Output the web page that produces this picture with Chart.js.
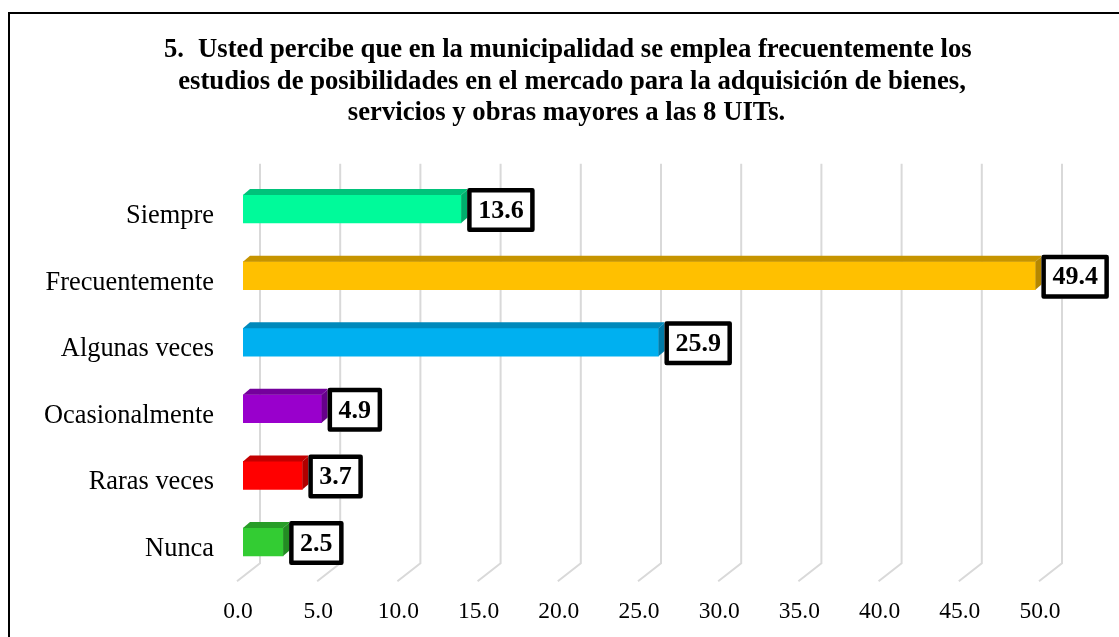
<!DOCTYPE html>
<html><head><meta charset="utf-8">
<script src="https://cdn.jsdelivr.net/npm/chart.js@4/dist/chart.umd.min.js"></script>
<style>html,body{margin:0;padding:0;background:#fff;}canvas{display:block;}</style>
</head><body>
<canvas id="c" width="1119" height="637"></canvas>
<script>
const categories = ['Siempre', 'Frecuentemente', 'Algunas veces', 'Ocasionalmente', 'Raras veces', 'Nunca'];
const values = [13.6, 49.4, 25.9, 4.9, 3.7, 2.5];
const frontColors = ['#00FA9A', '#FFC000', '#00B0F0', '#9900CC', '#FF0000', '#33CC33'];
const topColors = ['#00C27A', '#C69400', '#0089BB', '#74009C', '#C40000', '#289D28'];
const sideColors = ['#00AE6C', '#B58700', '#007BA8', '#66008A', '#B00000', '#238C23'];
const tickValues = [0, 5, 10, 15, 20, 25, 30, 35, 40, 45, 50];
const titleNumber = '5.';
const titleLines = [
  'Usted percibe que en la municipalidad se emplea frecuentemente los',
  'estudios de posibilidades en el mercado para la adquisición de bienes,',
  'servicios y obras mayores a las 8 UITs.'
];

const SERIF = '"Liberation Serif", "Times New Roman", serif';
const DX = 7, DY = -6;

function poly(ctx, pts, color) {
  ctx.beginPath();
  ctx.moveTo(pts[0][0], pts[0][1]);
  for (let i = 1; i < pts.length; i++) ctx.lineTo(pts[i][0], pts[i][1]);
  ctx.closePath();
  ctx.fillStyle = color;
  ctx.fill();
}

const framePlugin = {
  id: 'frame',
  afterDraw(chart) {
    const ctx = chart.ctx;
    ctx.save();
    ctx.strokeStyle = '#000';
    ctx.lineWidth = 2;
    ctx.beginPath();
    ctx.moveTo(9, 637);
    ctx.lineTo(9, 13);
    ctx.lineTo(1119, 13);
    ctx.stroke();
    // title
    ctx.fillStyle = '#000';
    ctx.font = 'bold 26.7px ' + SERIF;
    ctx.textBaseline = 'alphabetic';
    ctx.textAlign = 'left';
    ctx.fillText(titleNumber, 164, 57);
    ctx.fillText(titleLines[0], 198, 57);
    ctx.textAlign = 'center';
    ctx.fillText(titleLines[1], 572, 89);
    ctx.fillText(titleLines[2], 566.5, 120);
    ctx.restore();
  }
};

const grid3d = {
  id: 'grid3d',
  beforeDatasetsDraw(chart) {
    const { ctx, chartArea: a, scales: { x } } = chart;
    ctx.save();
    ctx.strokeStyle = '#d9d9d9';
    ctx.lineWidth = 2;
    tickValues.forEach(v => {
      const p = x.getPixelForValue(v);
      ctx.beginPath();
      ctx.moveTo(p + 17, a.top - 12);
      ctx.lineTo(p + 17, a.bottom - 12);
      ctx.lineTo(p - 6, a.bottom + 6);
      ctx.stroke();
    });
    ctx.restore();
  }
};

const bars3d = {
  id: 'bars3d',
  afterDatasetsDraw(chart) {
    const ctx = chart.ctx;
    const meta = chart.getDatasetMeta(0);
    ctx.save();
    meta.data.forEach((bar, i) => {
      const p = bar.getProps(['x', 'y', 'base', 'height'], true);
      const xr = p.x, base = p.base, top = p.y - p.height / 2, bot = p.y + p.height / 2;
      poly(ctx, [[base, top], [xr, top], [xr + DX, top + DY], [base + DX, top + DY]], topColors[i]);
      poly(ctx, [[xr, top], [xr + DX, top + DY], [xr + DX, bot + DY], [xr, bot]], sideColors[i]);
    });
    // data labels
    ctx.font = 'bold 26px ' + SERIF;
    ctx.textBaseline = 'middle';
    ctx.textAlign = 'center';
    meta.data.forEach((bar, i) => {
      const p = bar.getProps(['x', 'y'], true);
      const txt = values[i].toFixed(1);
      const tw = ctx.measureText(txt).width;
      const w = tw + 22, h = 44;
      const L = p.x + 6, T = p.y + 1 - h / 2;
      ctx.fillStyle = '#fff';
      ctx.fillRect(L, T, w, h);
      ctx.strokeStyle = '#000';
      ctx.lineWidth = 4.5;
      ctx.lineJoin = 'round';
      ctx.strokeRect(L + 2.25, T + 2.25, w - 4.5, h - 4.5);
      ctx.fillStyle = '#000';
      ctx.fillText(txt, L + w / 2, p.y + 2);
    });
    ctx.restore();
  }
};

new Chart(document.getElementById('c'), {
  type: 'bar',
  data: {
    labels: categories,
    datasets: [{
      data: values,
      backgroundColor: frontColors,
      borderWidth: 0,
      barThickness: 28
    }]
  },
  options: {
    indexAxis: 'y',
    responsive: false,
    devicePixelRatio: 1,
    animation: false,
    layout: { padding: { left: 0, right: 74, top: 175.75, bottom: 0 } },
    plugins: { legend: { display: false }, tooltip: { enabled: false }, title: { display: false } },
    scales: {
      x: {
        type: 'linear',
        min: 0, max: 50,
        afterBuildTicks(s) { s.ticks = tickValues.map(v => ({ value: v })); },
        afterFit(s) { s.height = 61.75; },
        grid: { display: false, drawTicks: false },
        border: { display: false },
        ticks: {
          padding: 22,
          labelOffset: -5,
          color: '#000',
          font: { family: SERIF, size: 23.5 },
          callback: v => Number(v).toFixed(1),
          maxRotation: 0, autoSkip: false
        }
      },
      y: {
        afterFit(s) { s.width = 243; },
        grid: { display: false, drawTicks: false },
        border: { display: false },
        ticks: {
          padding: 29,
          labelOffset: 7,
          color: '#000',
          font: { family: SERIF, size: 26.4 }
        }
      }
    }
  },
  plugins: [grid3d, bars3d, framePlugin]
});
</script>
</body></html>
